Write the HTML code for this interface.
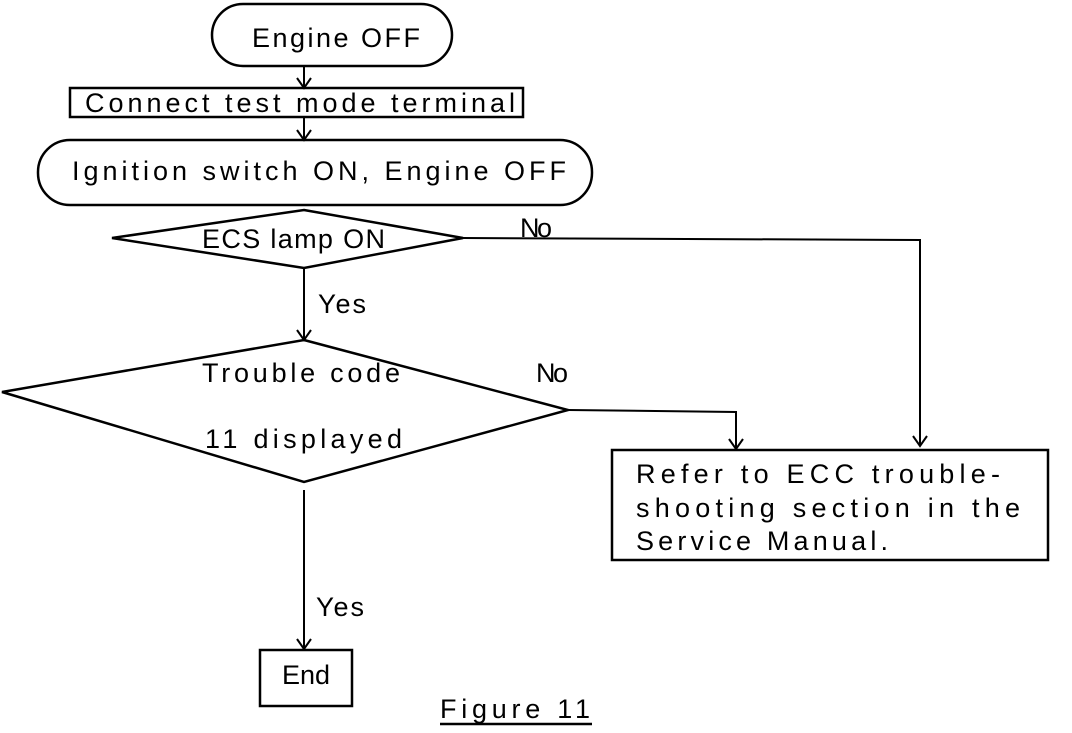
<!DOCTYPE html>
<html><head><meta charset="utf-8"><style>html,body{margin:0;padding:0;background:#fff}</style></head><body>
<svg width="1072" height="728" viewBox="0 0 1072 728" xmlns="http://www.w3.org/2000/svg">
<defs><marker id="a" markerWidth="16" markerHeight="16" refX="14" refY="8" orient="auto" markerUnits="userSpaceOnUse">
<path d="M4,1 L14,8 L4,15" fill="none" stroke="#000" stroke-width="2"/></marker></defs>
<g fill="none" stroke="#000" stroke-width="2.5">
<rect x="212" y="4" width="240" height="62" rx="31"/>
<rect x="70" y="88" width="453" height="29"/>
<rect x="38" y="140" width="554" height="65" rx="32"/>
<polygon points="304,210 463,238 304,268 112,238"/>
<polygon points="304,340 568,410 304,482 2,392"/>
<rect x="612" y="450" width="436" height="110"/>
<rect x="260" y="650" width="92" height="56"/>
</g>
<g fill="none" stroke="#000" stroke-width="2">
<line x1="304" y1="66" x2="304" y2="88" marker-end="url(#a)"/>
<line x1="304" y1="117" x2="304" y2="140" marker-end="url(#a)"/>
<line x1="304" y1="268" x2="304" y2="340" marker-end="url(#a)"/>
<polyline points="463,238 920,240 920,446" marker-end="url(#a)"/>
<polyline points="568,410 736,412 736,449" marker-end="url(#a)"/>
<line x1="304" y1="490" x2="304" y2="649" marker-end="url(#a)"/>
<line x1="440" y1="724" x2="592" y2="724" stroke-width="2.5"/>
</g>
<g font-family="Liberation Sans, sans-serif" font-size="27" fill="#000" lengthAdjust="spacingAndGlyphs">
<text x="252" y="47" textLength="168">Engine OFF</text>
<text x="85" y="112" textLength="430">Connect test mode terminal</text>
<text x="72" y="180" textLength="494">Ignition switch ON, Engine OFF</text>
<text x="202" y="248" textLength="183">ECS lamp ON</text>
<text x="520" y="237" textLength="32">No</text>
<text x="318" y="313" textLength="48">Yes</text>
<text x="202" y="382" textLength="198">Trouble code</text>
<text x="536" y="382" textLength="32">No</text>
<text x="205" y="448" textLength="197">11 displayed</text>
<text x="636" y="483" textLength="364">Refer to ECC trouble-</text>
<text x="636" y="517" textLength="384">shooting section in the</text>
<text x="636" y="550" textLength="252">Service Manual.</text>
<text x="316" y="616" textLength="48">Yes</text>
<text x="282" y="684" textLength="48">End</text>
<text x="440" y="718" textLength="150">Figure 11</text>
</g>
</svg>
</body></html>
